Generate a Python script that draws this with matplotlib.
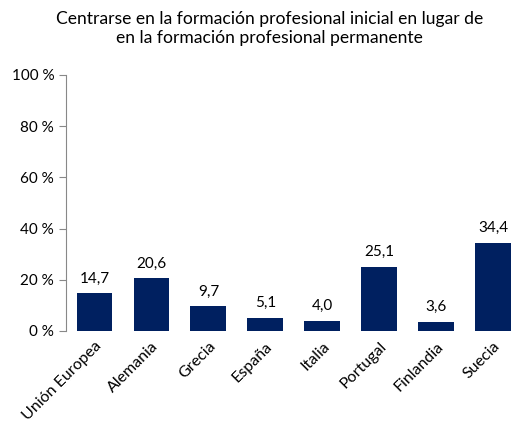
import matplotlib
matplotlib.use('Agg')
import matplotlib.pyplot as plt
import numpy as np

plt.rcParams['font.family'] = ['Lato', 'DejaVu Sans']

paises = ['Unión Europea', 'Alemania', 'Grecia', 'España', 'Italia',
          'Portugal', 'Finlandia', 'Suecia']
valores = [14.7, 20.6, 9.7, 5.1, 4.0, 25.1, 3.6, 34.4]
yticks = [0, 20, 40, 60, 80, 100]

fig = plt.figure(figsize=(5.16, 4.23), dpi=100)
ax = fig.add_axes([0.128, 0.2175, 0.872, 0.6052])

x = np.arange(len(paises))
bars = ax.bar(x, valores, width=0.63, color='#002060')

for xi, v in zip(x, valores):
    ax.text(xi, v + 3, ('%.1f' % v).replace('.', ','), ha='center', va='bottom',
            fontsize=11, color='black')

ax.set_xlim(-0.5, 7.4)
ax.set_ylim(0, 100)
ax.set_yticks(yticks)
ax.set_yticklabels(['%d %%' % t for t in yticks], fontsize=11)
ax.set_xticks(x)
ax.set_xticklabels(paises, rotation=45, ha='right', rotation_mode='anchor', fontsize=11.5)
ax.tick_params(axis='x', length=0, pad=6)
ax.tick_params(axis='y', length=5, color='#888888', direction='out')

for s in ['top', 'right', 'bottom']:
    ax.spines[s].set_visible(False)
ax.spines['left'].set_color('#888888')

fig.text(0.523, 0.975, 'Centrarse en la formación profesional inicial en lugar de\n'
         'en la formación profesional permanente', ha='center', va='top',
         fontsize=12.6, linespacing=1.25)

fig.savefig('out.png', dpi=100)
